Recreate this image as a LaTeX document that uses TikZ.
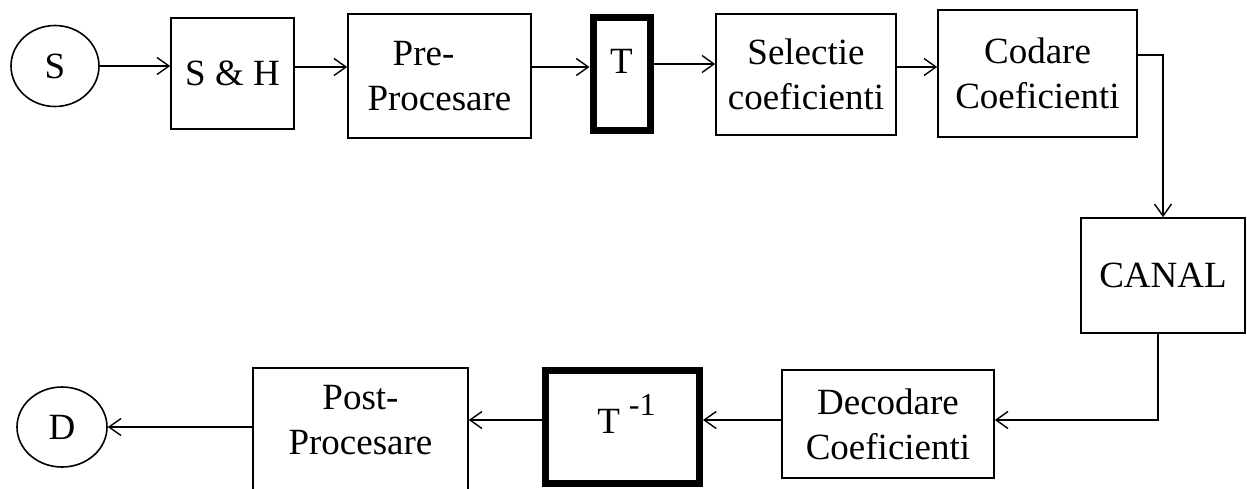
\documentclass[tikz,border=0pt]{standalone}
\usepackage{fontspec}
\setmainfont{Liberation Serif}
\usetikzlibrary{arrows.meta,shapes.geometric}
\begin{document}
\begin{tikzpicture}[x=1pt,y=-1pt,
  txtfont/.style={font=\fontsize{37}{45}\selectfont},
  box/.style={draw, line width=1.6pt, inner sep=0pt, align=center, txtfont},
  tbox/.style={draw, line width=7pt, inner sep=0pt, align=center, txtfont},
  circ/.style={draw, ellipse, line width=1.6pt, inner sep=0pt, txtfont},
  plain/.style={inner sep=0pt, align=center, txtfont},
  conn/.style={line width=1.6pt},
  arr/.style={conn, -{Straight Barb[length=12pt,width=17pt,line width=1.4pt]}}
]
\useasboundingbox (0,0) rectangle (1247,488);
\clip (0,0) rectangle (1247,488);

% row guide coordinates
\coordinate (r1) at (0,67);
\coordinate (r1b) at (0,64);
\coordinate (r1c) at (0,55);
\coordinate (r2) at (0,420);

% top row
\node[circ, minimum width=88pt, minimum height=81pt] (s) at (55,66) {S};
\node[box, minimum width=123pt, minimum height=111pt] (sh) at (232.5,73.5) {S \& H};
\node[box, minimum width=183pt, minimum height=124pt] (pre) at (439.5,76) {\hspace*{-32pt}Pre-\\Procesare};
\node[tbox, minimum width=57pt, minimum height=113pt] (t) at (621.5,73.5) {\raisebox{0pt}[0pt][0pt]{T}};
\node[box, minimum width=180pt, minimum height=121pt] (sel) at (806,74.5) {Selectie\\coeficienti};
\node[box, minimum width=199pt, minimum height=127pt] (cod) at (1037.5,73.5) {Codare\\Coeficienti};

% channel
\node[box, minimum width=164pt, minimum height=115pt] (canal) at (1163,275.5) {CANAL};

% bottom row
\node[box, minimum width=212pt, minimum height=108pt] (dec) at (888,424) {Decodare\\Coeficienti};
\node[tbox, minimum width=154pt, minimum height=113pt] (tinv) at (622.5,427)
  {\raisebox{-6pt}[0pt][0pt]{\hspace*{8pt}T\hspace{9pt}\raisebox{18pt}{\fontsize{32}{32}\selectfont -1}}};
\node[box, minimum width=215pt, minimum height=132pt] (post) at (360.5,434) {};
\node[plain] (postt) at (360.5,420) {Post-\\Procesare};
\node[circ, minimum width=90pt, minimum height=80pt] (d) at (62,427) {D};

% connectors
\draw[arr] (s.east) -- (sh.west |- s.east);
\draw[arr] (sh.east |- r1) -- (pre.west |- r1);
\draw[arr] (pre.east |- r1) -- (t.west |- r1);
\draw[arr] (t.east |- r1b) -- (sel.west |- r1b);
\draw[arr] (sel.east |- r1) -- (cod.west |- r1);
\draw[arr] (cod.east |- r1c) -| (canal.north);
\draw[arr] ([xshift=-5pt]canal.south) |- (dec.east |- r2);
\draw[arr] (dec.west |- r2) -- (tinv.east |- r2);
\draw[arr] (tinv.west |- r2) -- (post.east |- r2);
\draw[arr] (post.west |- d.east) -- (d.east);
\end{tikzpicture}
\end{document}
